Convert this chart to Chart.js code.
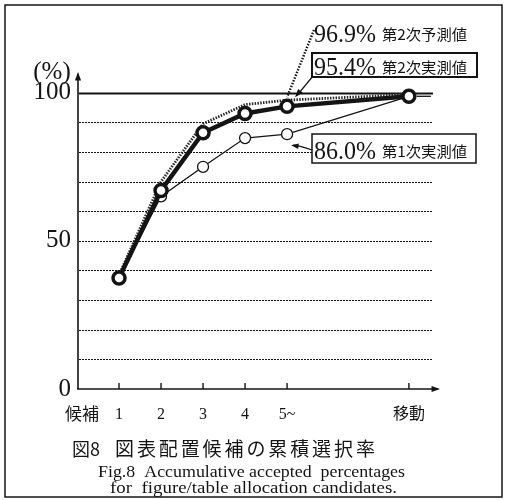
<!DOCTYPE html>
<html><head><meta charset="utf-8">
<script src="https://cdn.jsdelivr.net/npm/chart.js@4"></script>
<style>html,body{margin:0;padding:0;background:#fff}#w{width:506px;height:500px;position:relative}canvas{display:block}</style>
</head><body><div id="w"><canvas id="c" width="506" height="500"></canvas></div>
<script>
// ---- data ----
const categories = ['1', '2', '3', '4', '5~', '移動'];
const categoryX = [1, 2, 3, 4, 5, 7.9];
const predicted2 = [38.5, 70, 89.5, 96, 97.5, 99.4];  // 第2次予測値 (dotted)
const actual2 = [37.5, 67, 86.5, 93, 95.4, 98.8];    // 第2次実測値 (thick)
const actual1 = [37.5, 65, 75, 84.7, 86.0, 98.8];    // 第1次実測値 (thin)
const seriesLabels = ['第2次予測値', '第2次実測値', '第1次実測値'];
const seriesFinal = ['96.9%', '95.4%', '86.0%'];
const yTickValues = [0, 50, 100];
const yGridValues = [10, 20, 30, 40, 50, 60, 70, 80, 90, 100];
const xAxisCaption = '候補';
const yUnit = '(%)';
const titleJa = ['図8', '図表配置候補の累積選択率'];
const titleEn = ['Fig.8  Accumulative accepted  percentages', 'for  figure/table allocation candidates.'];

const SERIF = '"Liberation Serif","Noto Sans CJK JP",serif';
const CJK = '"Noto Sans CJK JP","Liberation Serif",sans-serif';
const INK = '#141414';

const pts = arr => arr.map((v, i) => ({ x: categoryX[i], y: v }));

function arrow(ctx, x1, y1, x2, y2, size) {
  const a = Math.atan2(y2 - y1, x2 - x1);
  ctx.beginPath();
  ctx.moveTo(x2, y2);
  ctx.lineTo(x2 - size * Math.cos(a - 0.35), y2 - size * Math.sin(a - 0.35));
  ctx.lineTo(x2 - size * Math.cos(a + 0.35), y2 - size * Math.sin(a + 0.35));
  ctx.closePath();
  ctx.fill();
}

function fitText(ctx, text, x, y, width) {
  const w = ctx.measureText(text).width;
  ctx.save();
  ctx.translate(x, y);
  ctx.scale(width / w, 1);
  ctx.textAlign = 'left';
  ctx.fillText(text, 0, 0);
  ctx.restore();
}

const decor = {
  id: 'decor',
  beforeDatasetsDraw(chart) {
    const ctx = chart.ctx, xs = chart.scales.x, ys = chart.scales.y;
    const x0 = xs.left, yb = ys.getPixelForValue(0);
    ctx.save();
    ctx.strokeStyle = INK; ctx.fillStyle = INK;
    // frame
    ctx.lineWidth = 1.5;
    ctx.strokeRect(5, 5, 497, 492);
    // grid lines
    yGridValues.forEach(v => {
      const y = Math.round(ys.getPixelForValue(v)) + 0.5;
      ctx.beginPath();
      if (v === 100) { ctx.setLineDash([]); ctx.lineWidth = 2; }
      else { ctx.setLineDash([2, 1]); ctx.lineWidth = 1.2; }
      ctx.moveTo(x0 + 2, y); ctx.lineTo(433, y); ctx.stroke();
    });
    ctx.setLineDash([]);
    // axes
    ctx.lineWidth = 1.6;
    ctx.beginPath();
    ctx.moveTo(x0 + 1, yb); ctx.lineTo(x0 + 1, ys.top + 2);
    ctx.moveTo(x0, yb); ctx.lineTo(xs.right - 2, yb);
    ctx.stroke();
    arrow(ctx, x0 + 1, ys.top + 10, x0 + 1, ys.top, 9);
    arrow(ctx, xs.right - 10, yb, xs.right, yb, 9);
    // tick marks
    ctx.lineWidth = 1.4;
    categoryX.forEach(v => {
      const x = xs.getPixelForValue(v);
      ctx.beginPath(); ctx.moveTo(x, yb); ctx.lineTo(x, yb - 6); ctx.stroke();
    });
    // unit and axis caption
    ctx.font = '25px ' + SERIF; ctx.textAlign = 'center'; ctx.textBaseline = 'middle';
    ctx.fillText(yUnit, 52, 72);
    ctx.font = '17px ' + CJK; ctx.textAlign = 'center'; ctx.textBaseline = 'middle';
    ctx.fillText(xAxisCaption, 82, 414);
    ctx.restore();
  },
  afterDatasetsDraw(chart) {
    const ctx = chart.ctx, xs = chart.scales.x, ys = chart.scales.y;
    const px = xs.getPixelForValue(categoryX[4]);
    const pLast = xs.getPixelForValue(categoryX[5]);
    ctx.save();
    ctx.strokeStyle = INK; ctx.fillStyle = INK;
    // short tail after the last point
    const yl = ys.getPixelForValue(actual2[5]);
    ctx.lineWidth = 1.3;
    ctx.beginPath(); ctx.moveTo(pLast + 8, yl); ctx.lineTo(pLast + 22, yl); ctx.stroke();
    // labels for final values
    const rows = [
      { v: seriesFinal[0], t: seriesLabels[0], base: 42, box: null },
      { v: seriesFinal[1], t: seriesLabels[1], base: 75, box: [312, 53, 165, 24], lw: 2 },
      { v: seriesFinal[2], t: seriesLabels[2], base: 159, box: [312, 134, 164, 29], lw: 1.5 }
    ];
    rows.forEach(r => {
      if (r.box) {
        ctx.fillStyle = '#fff';
        ctx.fillRect(r.box[0], r.box[1], r.box[2], r.box[3]);
        ctx.fillStyle = INK;
        ctx.lineWidth = r.lw; ctx.strokeRect(r.box[0], r.box[1], r.box[2], r.box[3]);
      }
      ctx.textBaseline = 'alphabetic'; ctx.textAlign = 'left';
      ctx.font = '25px ' + SERIF;
      fitText(ctx, r.v, 314, r.base, 62);
      ctx.font = '15px ' + CJK;
      fitText(ctx, r.t, 382, r.base - 2, 85);
    });
    // leader: predicted (dotted)
    const yp = ys.getPixelForValue(predicted2[4]);
    ctx.lineWidth = 2.4; ctx.setLineDash([1.5, 1.5]);
    ctx.beginPath(); ctx.moveTo(314, 30); ctx.lineTo(px, yp - 3); ctx.stroke();
    ctx.setLineDash([]);
    // leader: actual 2nd
    const ya = ys.getPixelForValue(actual2[4]);
    ctx.lineWidth = 1.3;
    ctx.beginPath(); ctx.moveTo(313, 76); ctx.lineTo(px + 10, ya - 11); ctx.stroke();
    arrow(ctx, 313, 76, px + 8, ya - 9, 9);
    // leader: actual 1st
    const y1 = ys.getPixelForValue(actual1[4]);
    ctx.beginPath(); ctx.moveTo(312, 150); ctx.quadraticCurveTo(300, 146, px + 6, y1 + 11); ctx.stroke();
    arrow(ctx, 300, 146.5, px + 4, y1 + 11, 8);
    // captions
    ctx.textBaseline = 'middle'; ctx.textAlign = 'left';
    ctx.font = '18px ' + CJK;
    ctx.fillText(titleJa[0], 72, 449);
    ctx.font = '19px ' + CJK;
    const chars = Array.from(titleJa[1]);
    chars.forEach((ch, i) => ctx.fillText(ch, 115 + i * 21.9, 449));
    ctx.textBaseline = 'alphabetic';
    ctx.font = '16.5px ' + SERIF;
    fitText(ctx, titleEn[0], 98, 477, 307);
    fitText(ctx, titleEn[1], 110, 493, 287);
    ctx.restore();
  }
};

new Chart(document.getElementById('c'), {
  type: 'line',
  data: {
    datasets: [
      { label: seriesLabels[1], data: pts(actual2), borderColor: INK, borderWidth: 4.5,
        pointRadius: 6, pointBorderWidth: 3.5, pointBackgroundColor: '#fff', pointBorderColor: INK,
        order: 1, clip: false },
      { label: seriesLabels[0], data: pts(predicted2), borderColor: '#2a2a2a', borderWidth: 2.8,
        borderDash: [1.5, 1.3], pointRadius: 0, order: 2, clip: false },
      { label: seriesLabels[2], data: pts(actual1), borderColor: INK, borderWidth: 1.3,
        pointRadius: 5.5, pointBorderWidth: 1.3, pointBackgroundColor: '#fff', pointBorderColor: INK,
        order: 3, clip: false }
    ]
  },
  options: {
    responsive: false, animation: false, events: [],
    layout: { padding: { top: 72, right: 66, left: 0, bottom: 0 } },
    plugins: { legend: { display: false }, tooltip: { enabled: false } },
    scales: {
      x: {
        type: 'linear', min: 0, max: 8.64,
        grid: { display: false, drawTicks: false }, border: { display: false },
        afterBuildTicks: s => { s.ticks = categoryX.map(v => ({ value: v })); },
        afterFit: s => { s.height = 111; },
        ticks: { padding: 16, color: INK, font: { family: SERIF, size: 16 },
          callback: (v, i) => categories[i] }
      },
      y: {
        min: 0, max: 107,
        grid: { display: false, drawTicks: false }, border: { display: false },
        afterBuildTicks: s => { s.ticks = yTickValues.map(v => ({ value: v })); },
        afterFit: s => { s.width = 77; },
        ticks: { padding: 6, color: INK, font: { family: SERIF, size: 25 } }
      }
    }
  },
  plugins: [decor]
});
</script>
</body></html>
